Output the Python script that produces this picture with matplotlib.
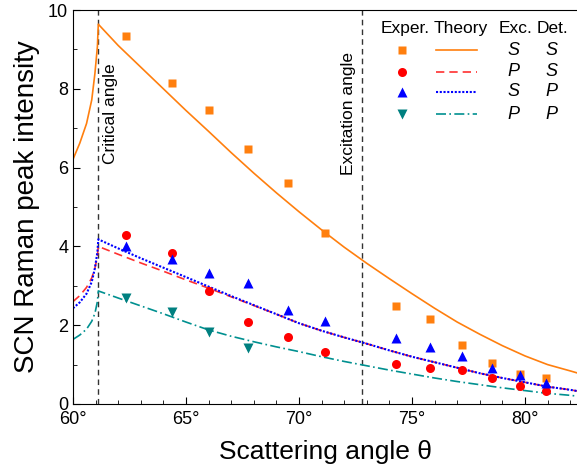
import matplotlib
matplotlib.use('Agg')
import matplotlib.pyplot as plt
from matplotlib.ticker import MultipleLocator, FuncFormatter

plt.rcParams['font.family'] = ['Liberation Sans', 'DejaVu Sans']

# measured points (angle in degrees)
exp_angle = [62.35, 64.38, 66.02, 67.74, 69.51, 71.15, 74.29, 75.8, 77.2, 78.54, 79.78, 80.93]
exp_ss = [9.34, 8.15, 7.46, 6.47, 5.60, 4.34, 2.50, 2.17, 1.50, 1.03, 0.76, 0.67]
exp_ps = [4.29, 3.84, 2.88, 2.08, 1.70, 1.33, 1.02, 0.91, 0.87, 0.66, 0.46, 0.33]
exp_sp = [4.02, 3.69, 3.32, 3.06, 2.39, 2.11, 1.68, 1.44, 1.22, 0.91, 0.74, 0.54]
pp_angle = [62.35, 64.38, 66.02, 67.74]
exp_pp = [2.70, 2.34, 1.84, 1.43]

# theory curves
th_angle = [60.0, 60.3, 60.6, 60.83, 60.97, 61.08, 61.12,
            62, 63, 64, 65, 66, 67, 68, 69, 70, 71, 72,
            73, 74, 75, 76, 77, 78, 79, 80, 81, 82, 82.3]
th_ss = [6.21, 6.62, 7.12, 7.72, 8.39, 9.07, 9.64,
         9.10, 8.55, 8.00, 7.45, 6.92, 6.38, 5.86, 5.36, 4.88, 4.42, 3.98,
         3.57, 3.18, 2.80, 2.43, 2.08, 1.77, 1.48, 1.22, 1.00, 0.84, 0.79]
th_ps = [2.60, 2.75, 2.96, 3.20, 3.45, 3.75, 4.00,
         3.80, 3.58, 3.37, 3.15, 2.94, 2.72, 2.50, 2.28, 2.05, 1.86, 1.69,
         1.53, 1.36, 1.20, 1.06, 0.92, 0.78, 0.66, 0.55, 0.44, 0.36, 0.33]
th_sp = [2.43, 2.58, 2.80, 3.10, 3.45, 3.85, 4.18,
         3.95, 3.70, 3.46, 3.22, 2.98, 2.74, 2.51, 2.28, 2.05, 1.86, 1.69,
         1.53, 1.36, 1.20, 1.06, 0.92, 0.78, 0.66, 0.55, 0.44, 0.36, 0.33]
th_pp = [1.64, 1.75, 1.90, 2.10, 2.30, 2.60, 2.87,
         2.69, 2.49, 2.29, 2.08, 1.88, 1.72, 1.58, 1.45, 1.33, 1.20, 1.08,
         0.97, 0.86, 0.76, 0.66, 0.57, 0.49, 0.41, 0.34, 0.27, 0.22, 0.20]

critical_angle = 61.12
excitation_angle = 72.8

fig = plt.figure(figsize=(5.77, 4.69), dpi=100)
ax = fig.add_axes([0.1265, 0.1386, 0.8735, 0.840])

orange = '#ff7f0e'
ss_style = dict(color=orange, lw=1.2)
ps_style = dict(color='#ff3030', lw=1.2, ls=(0, (5, 3)))
sp_style = dict(color='#0000ff', lw=1.5, ls=(0, (1, 0.8)))
pp_style = dict(color='#009090', lw=1.2, ls=(0, (6, 2, 1, 2)))

ax.axvline(critical_angle, color='#333333', ls=(0, (4, 3)), lw=1)
ax.axvline(excitation_angle, color='#333333', ls=(0, (4, 3)), lw=1)

ax.plot(th_angle, th_ss, **ss_style)
ax.plot(th_angle, th_ps, **ps_style)
ax.plot(th_angle, th_sp, **sp_style)
ax.plot(th_angle, th_pp, **pp_style)

ss_mk = dict(marker='s', color=orange, ms=5.8, mec='none', ls='none')
ps_mk = dict(marker='o', color='#ff0000', ms=6.5, mec='none', ls='none')
sp_mk = dict(marker='^', color='#0000ff', ms=7.8, mec='none', ls='none')
pp_mk = dict(marker='v', color='#008080', ms=7.8, mec='none', ls='none')

ax.plot(exp_angle, exp_ss, **ss_mk)
ax.plot(exp_angle, exp_ps, **ps_mk)
ax.plot(exp_angle, exp_sp, **sp_mk)
ax.plot(pp_angle, exp_pp, **pp_mk)

ax.set_xlim(60, 82.3)
ax.set_ylim(0, 10)
ax.xaxis.set_major_locator(MultipleLocator(5))
ax.xaxis.set_minor_locator(MultipleLocator(1))
ax.yaxis.set_major_locator(MultipleLocator(2))
ax.yaxis.set_minor_locator(MultipleLocator(1))
ax.xaxis.set_major_formatter(FuncFormatter(lambda v, p: f'{v:.0f}°'))
ax.tick_params(which='both', direction='in', labelsize=13, top=False, right=False)
ax.tick_params(which='major', length=5)
ax.tick_params(which='minor', length=3)
ax.tick_params(axis='x', pad=5)
ax.spines['right'].set_visible(False)

ax.set_xlabel('Scattering angle θ', fontsize=19, labelpad=9)
ax.set_ylabel('SCN Raman peak intensity', fontsize=20, labelpad=6)

ax.text(61.68, 7.37, 'Critical angle', rotation=90,
        ha='center', va='center', fontsize=12.5)
ax.text(72.17, 7.37, 'Excitation angle', rotation=90,
        ha='center', va='center', fontsize=12.5)

# table-like legend
hdr_y = 9.54
ax.text(74.7, hdr_y, 'Exper.', fontsize=12.5, ha='center', va='center')
ax.text(77.17, hdr_y, 'Theory', fontsize=12.5, ha='center', va='center')
ax.text(79.56, hdr_y, 'Exc.', fontsize=12.5, ha='center', va='center')
ax.text(81.2, hdr_y, 'Det.', fontsize=12.5, ha='center', va='center')
rows = [
    (ss_mk, ss_style, 'S', 'S'),
    (ps_mk, ps_style, 'P', 'S'),
    (sp_mk, sp_style, 'S', 'P'),
    (pp_mk, pp_style, 'P', 'P'),
]
row_y = [8.98, 8.43, 7.92, 7.35]
for (mk, lkw, exc, det), y in zip(rows, row_y):
    ax.plot([74.56], [y], **mk)
    ax.plot([76.06, 77.88], [y, y], **lkw)
    ax.text(79.47, y, exc, fontsize=13, style='italic', ha='center', va='center')
    ax.text(81.15, y, det, fontsize=13, style='italic', ha='center', va='center')

fig.savefig('out.png', dpi=100)
